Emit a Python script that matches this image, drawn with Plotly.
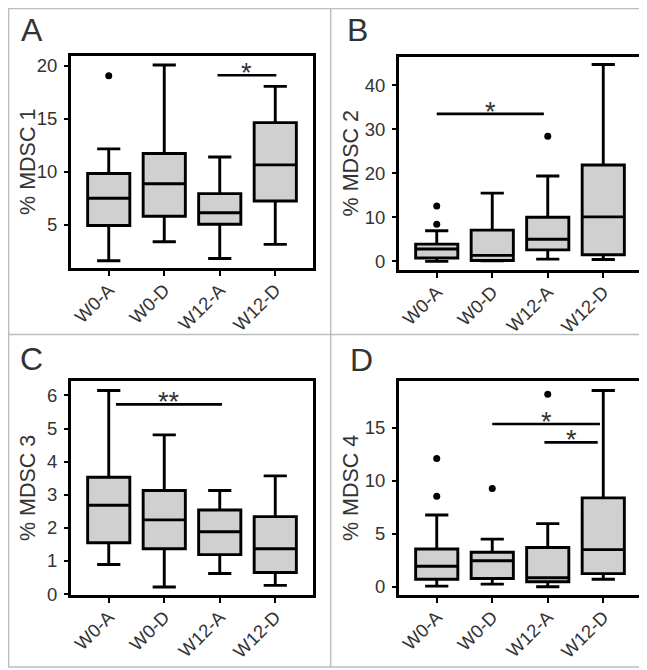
import plotly.graph_objects as go

categories = ["W0-A", "W0-D", "W12-A", "W12-D"]

# Panel A: % MDSC 1
mdsc1_low = [1.6, 3.4, 1.82, 3.15]
mdsc1_q1 = [4.93, 5.8, 5.05, 7.25]
mdsc1_med = [7.5, 8.87, 6.13, 10.66]
mdsc1_q3 = [9.85, 11.74, 7.94, 14.65]
mdsc1_high = [12.17, 20.09, 11.4, 18.08]
mdsc1_out_x = ["W0-A"]
mdsc1_out_y = [19.07]

# Panel B: % MDSC 2
mdsc2_low = [0.0, 0.1, 0.5, 0.4]
mdsc2_q1 = [0.75, 0.2, 2.6, 1.5]
mdsc2_med = [2.8, 1.35, 5.0, 10.1]
mdsc2_q3 = [3.9, 7.1, 10.0, 21.9]
mdsc2_high = [6.95, 15.5, 19.4, 44.7]
mdsc2_out_x = ["W0-A", "W0-A", "W12-A"]
mdsc2_out_y = [8.45, 12.56, 28.4]

# Panel C: % MDSC 3
mdsc3_low = [0.89, 0.21, 0.62, 0.26]
mdsc3_q1 = [1.55, 1.37, 1.19, 0.65]
mdsc3_med = [2.68, 2.24, 1.88, 1.37]
mdsc3_q3 = [3.53, 3.13, 2.54, 2.34]
mdsc3_high = [6.15, 4.81, 3.13, 3.57]
mdsc3_out_x = []
mdsc3_out_y = []

# Panel D: % MDSC 4
mdsc4_low = [0.06, 0.25, 0.0, 0.71]
mdsc4_q1 = [0.71, 0.78, 0.47, 1.24]
mdsc4_med = [1.93, 2.45, 0.85, 3.51]
mdsc4_q3 = [3.57, 3.26, 3.7, 8.39]
mdsc4_high = [6.77, 4.5, 5.96, 18.54]
mdsc4_out_x = ["W0-A", "W0-A", "W0-D", "W12-A"]
mdsc4_out_y = [8.54, 12.11, 9.29, 18.17]

# significance brackets: (start index, end index, height, label)
mdsc1_sig = [(1.96, 3.02, 19.13, "*")]
mdsc2_sig = [(0.0, 1.93, 33.5, "*")]
mdsc3_sig = [(0.13, 2.04, 5.73, "**")]
mdsc4_sig = [(1.0, 2.94, 15.37, "*"), (1.94, 2.9, 13.63, "*")]

panel_letters = ["A", "B", "C", "D"]
y_titles = ["% MDSC 1", "% MDSC 2", "% MDSC 3", "% MDSC 4"]
y_ranges = [[0.92, 20.96], [-2.0, 46.5], [-0.03, 6.43], [-0.78, 19.41]]
y_dticks = [5, 10, 1, 5]

W, H = 647, 670
FONT = "Liberation Sans, Arial, sans-serif"
TXT = "#333333"

panels = [
    (mdsc1_low, mdsc1_q1, mdsc1_med, mdsc1_q3, mdsc1_high, mdsc1_out_x, mdsc1_out_y, mdsc1_sig),
    (mdsc2_low, mdsc2_q1, mdsc2_med, mdsc2_q3, mdsc2_high, mdsc2_out_x, mdsc2_out_y, mdsc2_sig),
    (mdsc3_low, mdsc3_q1, mdsc3_med, mdsc3_q3, mdsc3_high, mdsc3_out_x, mdsc3_out_y, mdsc3_sig),
    (mdsc4_low, mdsc4_q1, mdsc4_med, mdsc4_q3, mdsc4_high, mdsc4_out_x, mdsc4_out_y, mdsc4_sig),
]

# frame pixel boxes (left, right, top, bottom)
frames = [(63, 305, 48.5, 263.5), (391, 633, 49.3, 265.7),
          (63, 305, 378.3, 595), (391, 633, 378.3, 595)]
letter_pos = [(11, 22.5), (337, 22.5), (10, 356), (340, 357)]
title_x = [20, 343, 20, 343]

fig = go.Figure()
layout = dict(width=W, height=H, margin=dict(l=0, r=0, t=0, b=0),
              paper_bgcolor="white", plot_bgcolor="white", showlegend=False,
              font=dict(family=FONT, color=TXT))
shapes = []
annotations = []

for i, (lo, q1, med, q3, hi, ox, oy, sig) in enumerate(panels):
    n = i + 1
    xa = "x" if n == 1 else f"x{n}"
    ya = "y" if n == 1 else f"y{n}"
    fig.add_trace(go.Box(
        x=categories, q1=q1, median=med, q3=q3, lowerfence=lo, upperfence=hi,
        xaxis=xa, yaxis=ya, width=0.76, whiskerwidth=0.55,
        fillcolor="#d0d0d0", line=dict(color="black", width=2.9),
        boxpoints=False, hoverinfo="skip"))
    if ox:
        fig.add_trace(go.Scatter(x=ox, y=oy, mode="markers", xaxis=xa, yaxis=ya,
                                 marker=dict(color="black", size=7), hoverinfo="skip"))
    l, r, t, b = frames[i]
    axx = dict(domain=[l / W, r / W], anchor=ya, type="category",
               categoryorder="array", categoryarray=categories,
               range=[-0.68, 3.68], showline=True, linecolor="black", linewidth=3,
               mirror=True, ticks="outside", ticklen=5, tickwidth=2.4, tickcolor="black",
               tickangle=-45, ticklabelstandoff=-4,
               tickfont=dict(size=18.5, color=TXT, family=FONT),
               showgrid=False, zeroline=False, fixedrange=True)
    axy = dict(domain=[1 - b / H, 1 - t / H], anchor=xa, range=y_ranges[i],
               dtick=y_dticks[i], tick0=0, showline=True, linecolor="black", linewidth=3,
               mirror=True, ticks="outside", ticklen=4, tickwidth=2.4, tickcolor="black",
               ticklabelstandoff=3,
               tickfont=dict(size=18.5, color=TXT, family=FONT),
               showgrid=False, zeroline=False, fixedrange=True)
    layout["xaxis" if n == 1 else f"xaxis{n}"] = axx
    layout["yaxis" if n == 1 else f"yaxis{n}"] = axy

    for (s0, s1, h, lab) in sig:
        shapes.append(dict(type="line", xref=xa, yref=ya, x0=s0, x1=s1, y0=h, y1=h,
                           line=dict(color="black", width=2.6)))
        annotations.append(dict(xref=xa, yref=ya, x=(s0 + s1) / 2, y=h, text=lab,
                                showarrow=False, yanchor="middle", yshift=2,
                                font=dict(size=27, color=TXT, family=FONT)))

    lx, ly = letter_pos[i]
    annotations.append(dict(xref="paper", yref="paper", x=lx / W, y=1 - ly / H,
                            xanchor="left", yanchor="middle", text=panel_letters[i],
                            showarrow=False, font=dict(size=32, color=TXT, family=FONT)))
    annotations.append(dict(xref="paper", yref="paper", x=title_x[i] / W,
                            y=1 - ((t + b) / 2) / H, xanchor="center", yanchor="middle",
                            text=y_titles[i], textangle=-90, showarrow=False,
                            font=dict(size=21.5, color=TXT, family=FONT)))

# panel divider lines
grey = "#bdbdbd"
shapes += [
    dict(type="rect", xref="paper", yref="paper", x0=0.6 / W, x1=645.5 / W,
         y0=1 - 668 / H, y1=1 - 0.6 / H, line=dict(color=grey, width=1.5)),
    dict(type="line", xref="paper", yref="paper", x0=322.7 / W, x1=322.7 / W,
         y0=1 - 668 / H, y1=1, line=dict(color=grey, width=1.5)),
    dict(type="line", xref="paper", yref="paper", x0=0, x1=645.5 / W,
         y0=1 - 331 / H, y1=1 - 331 / H, line=dict(color=grey, width=1.5)),
]

layout["shapes"] = shapes
layout["annotations"] = annotations
fig.update_layout(**layout)
fig.write_html("out.html")
